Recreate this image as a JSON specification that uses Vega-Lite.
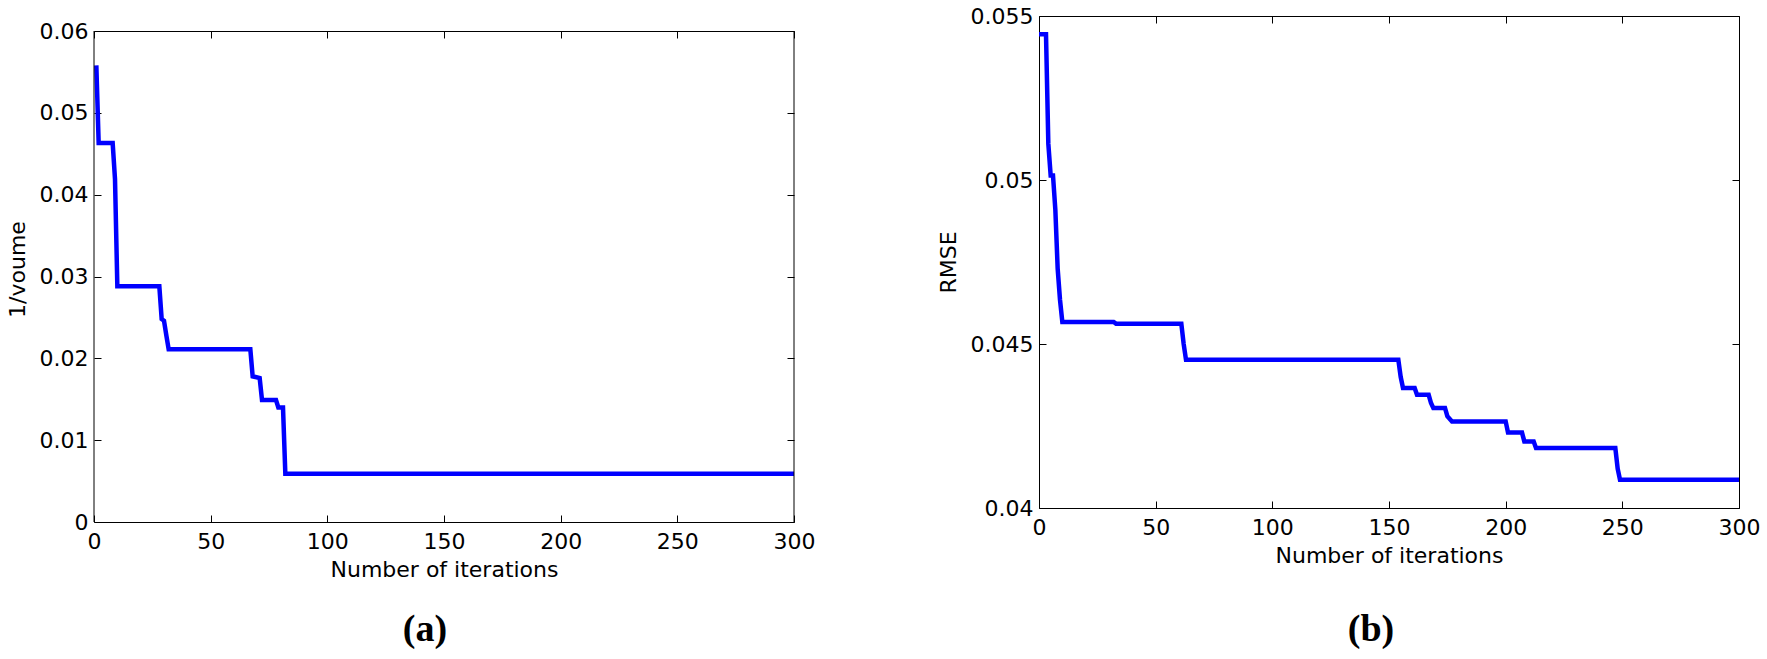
{
  "$schema": "https://vega.github.io/schema/vega-lite/v6.json",
  "background": "white",
  "padding": {"left": 6, "top": 5, "right": 5, "bottom": 5},
  "spacing": 122,
  "config": {
    "view": {"stroke": null},
    "axis": {
      "grid": false,
      "domainColor": "#000000",
      "domainWidth": 1,
      "tickColor": "#000000",
      "tickSize": -7,
      "tickWidth": 1,
      "labelFont": "DejaVu Sans",
      "labelFontSize": 22,
      "labelColor": "#000000",
      "titleFont": "DejaVu Sans",
      "titleFontSize": 22,
      "titleFontWeight": "normal",
      "titleColor": "#000000",
      "labelFlush": false,
      "labelOverlap": false,
      "labelBound": false
    },
    "axisX": {"labelPadding": 16, "titlePadding": 7},
    "axisY": {"labelPadding": 13, "titlePadding": 10},
    "title": {"font": "Liberation Serif", "fontSize": 38, "fontWeight": "bold", "color": "#000000", "orient": "bottom", "frame": "group"}
  },
  "datasets": {
    "a": [
      {"iter": 1, "v": 0.0558},
      {"iter": 2, "v": 0.0463},
      {"iter": 8, "v": 0.0463},
      {"iter": 9, "v": 0.0419},
      {"iter": 10, "v": 0.0288},
      {"iter": 28, "v": 0.0288},
      {"iter": 29, "v": 0.0248},
      {"iter": 30, "v": 0.0246},
      {"iter": 31, "v": 0.0228},
      {"iter": 32, "v": 0.0211},
      {"iter": 67, "v": 0.0211},
      {"iter": 68, "v": 0.0178},
      {"iter": 71, "v": 0.0176},
      {"iter": 72, "v": 0.0149},
      {"iter": 78, "v": 0.0149},
      {"iter": 79, "v": 0.014},
      {"iter": 81, "v": 0.014},
      {"iter": 82, "v": 0.0059},
      {"iter": 300, "v": 0.0059}
    ],
    "aframe": [
      {"side": 0},
      {"side": 300}
    ],
    "b": [
      {"iter": 0, "v": 0.05444},
      {"iter": 3, "v": 0.05444},
      {"iter": 4, "v": 0.0511},
      {"iter": 5, "v": 0.05014},
      {"iter": 6, "v": 0.05014},
      {"iter": 7, "v": 0.0491},
      {"iter": 8, "v": 0.0473},
      {"iter": 9, "v": 0.04635},
      {"iter": 10, "v": 0.04567},
      {"iter": 32, "v": 0.04567},
      {"iter": 33, "v": 0.04562},
      {"iter": 61, "v": 0.04562},
      {"iter": 62, "v": 0.045},
      {"iter": 63, "v": 0.04452},
      {"iter": 154, "v": 0.04452},
      {"iter": 155, "v": 0.044},
      {"iter": 156, "v": 0.04366},
      {"iter": 161, "v": 0.04366},
      {"iter": 162, "v": 0.04345},
      {"iter": 167, "v": 0.04345},
      {"iter": 168, "v": 0.0432},
      {"iter": 169, "v": 0.04305},
      {"iter": 174, "v": 0.04305},
      {"iter": 175, "v": 0.0428},
      {"iter": 177, "v": 0.04264},
      {"iter": 200, "v": 0.04264},
      {"iter": 201, "v": 0.0423},
      {"iter": 207, "v": 0.0423},
      {"iter": 208, "v": 0.04203},
      {"iter": 212, "v": 0.04203},
      {"iter": 213, "v": 0.04183},
      {"iter": 247, "v": 0.04183},
      {"iter": 248, "v": 0.0412},
      {"iter": 249, "v": 0.04086},
      {"iter": 300, "v": 0.04086}
    ]
  },
  "hconcat": [
    {
      "width": 700,
      "height": 506,
      "title": {"text": "(a)", "dx": -19, "offset": 31},
      "layer": [
        {
          "data": {"name": "a"},
          "mark": {"type": "line", "color": "#0000ff", "strokeWidth": 4.5},
          "encoding": {
            "x": {"field": "iter", "type": "quantitative", "scale": {"domain": [0, 300], "nice": false, "zero": false},
                  "axis": {"orient": "bottom", "values": [0, 50, 100, 150, 200, 250, 300], "title": "Number of iterations"}},
            "y": {"field": "v", "type": "quantitative", "scale": {"domain": [0, 0.061833], "nice": false, "zero": false},
                  "axis": {"orient": "left", "values": [0, 0.01, 0.02, 0.03, 0.04, 0.05, 0.06], "format": "~g", "title": "1/voume", "domain": false}}
          }
        },
        {
          "data": {"name": "aframe"},
          "mark": {"type": "rule", "color": "#000000", "strokeWidth": 1},
          "encoding": {
            "x": {"field": "side", "type": "quantitative",
                  "axis": {"orient": "top", "values": [0, 50, 100, 150, 200, 250, 300], "labels": false, "title": null, "offset": -15}},
            "y": {"datum": 0, "type": "quantitative",
                  "axis": {"orient": "right", "values": [0, 0.01, 0.02, 0.03, 0.04, 0.05, 0.06], "labels": false, "title": null, "domain": false}},
            "y2": {"datum": 0.06}
          }
        }
      ],
      "resolve": {"axis": {"x": "independent", "y": "independent"}}
    },
    {
      "width": 700,
      "height": 492,
      "title": {"text": "(b)", "dx": -18, "offset": 45},
      "data": {"name": "b"},
      "layer": [
        {
          "mark": {"type": "line", "color": "#0000ff", "strokeWidth": 4.5},
          "encoding": {
            "x": {"field": "iter", "type": "quantitative", "scale": {"domain": [0, 300], "nice": false, "zero": false},
                  "axis": {"orient": "bottom", "values": [0, 50, 100, 150, 200, 250, 300], "title": "Number of iterations"}},
            "y": {"field": "v", "type": "quantitative", "scale": {"domain": [0.04, 0.055], "nice": false, "zero": false},
                  "axis": {"orient": "left", "values": [0.04, 0.045, 0.05, 0.055], "format": "~g", "title": "RMSE"}}
          }
        },
        {
          "mark": {"type": "line", "strokeOpacity": 0},
          "encoding": {
            "x": {"field": "iter", "type": "quantitative",
                  "axis": {"orient": "top", "values": [0, 50, 100, 150, 200, 250, 300], "labels": false, "title": null}},
            "y": {"field": "v", "type": "quantitative",
                  "axis": {"orient": "right", "values": [0.04, 0.045, 0.05, 0.055], "labels": false, "title": null}}
          }
        }
      ],
      "resolve": {"axis": {"x": "independent", "y": "independent"}}
    }
  ]
}
